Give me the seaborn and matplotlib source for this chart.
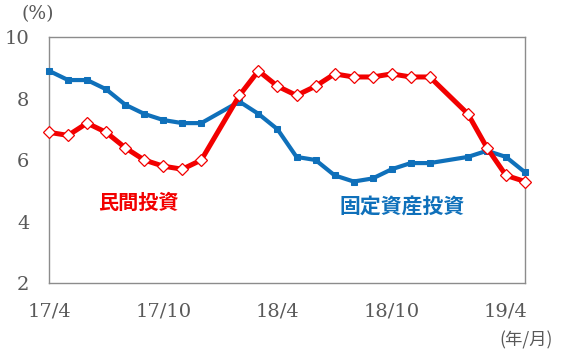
import matplotlib
matplotlib.use("Agg")
import matplotlib.pyplot as plt
import seaborn as sns
import pandas as pd

months = ["17/4", "17/5", "17/6", "17/7", "17/8", "17/9", "17/10", "17/11", "17/12",
          "18/2", "18/3", "18/4", "18/5", "18/6", "18/7", "18/8", "18/9", "18/10", "18/11", "18/12",
          "19/2", "19/3", "19/4", "19/5"]
fixed_asset = [8.9, 8.6, 8.6, 8.3, 7.8, 7.5, 7.3, 7.2, 7.2,
               7.9, 7.5, 7.0, 6.1, 6.0, 5.5, 5.3, 5.4, 5.7, 5.9, 5.9,
               6.1, 6.3, 6.1, 5.6]
private_inv = [6.9, 6.8, 7.2, 6.9, 6.4, 6.0, 5.8, 5.7, 6.0,
               8.1, 8.9, 8.4, 8.1, 8.4, 8.8, 8.7, 8.7, 8.8, 8.7, 8.7,
               7.5, 6.4, 5.5, 5.3]
tick_labels = ["17/4", "17/10", "18/4", "18/10", "19/4"]
yticks = [2, 4, 6, 8, 10]

def month_index(s):
    y, m = s.split("/")
    return (int(y) - 17) * 12 + int(m) - 4

idx = [month_index(m) for m in months]
df_fixed = pd.DataFrame({"idx": idx, "value": fixed_asset})
df_priv = pd.DataFrame({"idx": idx, "value": private_inv})

sns.set_style("white")
plt.rcParams["font.family"] = ["DejaVu Serif", "Noto Sans CJK JP"]

fig = plt.figure(figsize=(5.63, 3.55), dpi=100)
ax = fig.add_axes([49 / 563, 1 - 283 / 355, (525 - 49) / 563, (283 - 37) / 355])

blue = "#0F70BA"
red = "#F20000"

sns.lineplot(data=df_fixed, x="idx", y="value", ax=ax, color=blue, linewidth=3.0,
             marker="s", markersize=5, markerfacecolor=blue, markeredgecolor=blue,
             clip_on=False, zorder=3)
sns.lineplot(data=df_priv, x="idx", y="value", ax=ax, color=red, linewidth=3.6,
             marker="D", markersize=6.5, markerfacecolor="white", markeredgecolor=red,
             markeredgewidth=0.9, clip_on=False, zorder=4)

ax.set_xlim(0, 25)
ax.set_ylim(2, 10)
ax.set_yticks(yticks)
ax.set_yticklabels([str(v) for v in yticks])
ax.set_xticks([month_index(t) for t in tick_labels])
ax.set_xticklabels(tick_labels)
ax.set_xlabel("")
ax.set_ylabel("")

gray = "#595959"
for sp in ax.spines.values():
    sp.set_color("#8c8c8c")
    sp.set_linewidth(1.0)
ax.tick_params(axis="both", direction="in", length=6, color="#8c8c8c", width=1.0,
               labelsize=14, labelcolor=gray)
ax.tick_params(axis="y", pad=14)
ax.tick_params(axis="x", pad=14)
ax.grid(False)

fig.text(38 / 563, 1 - 14 / 355, "(%)", ha="center", va="center", fontsize=13.5,
         color=gray, family=["DejaVu Serif", "Noto Sans CJK JP"])
fig.text(526 / 563, 1 - 340 / 355, "(年/月)", ha="center", va="center", fontsize=12.5,
         color=gray, family=["Noto Sans CJK JP"])

ax.text(138 / 563, 1 - 202 / 355, "民間投資", transform=fig.transFigure, ha="center",
        va="center", fontsize=14.5, fontweight="bold", color=red,
        family=["Noto Sans CJK JP"])
ax.text(402 / 563, 1 - 207 / 355, "固定資産投資", transform=fig.transFigure, ha="center",
        va="center", fontsize=15, fontweight="bold", color=blue,
        family=["Noto Sans CJK JP"])

fig.savefig("out.png", dpi=100)
